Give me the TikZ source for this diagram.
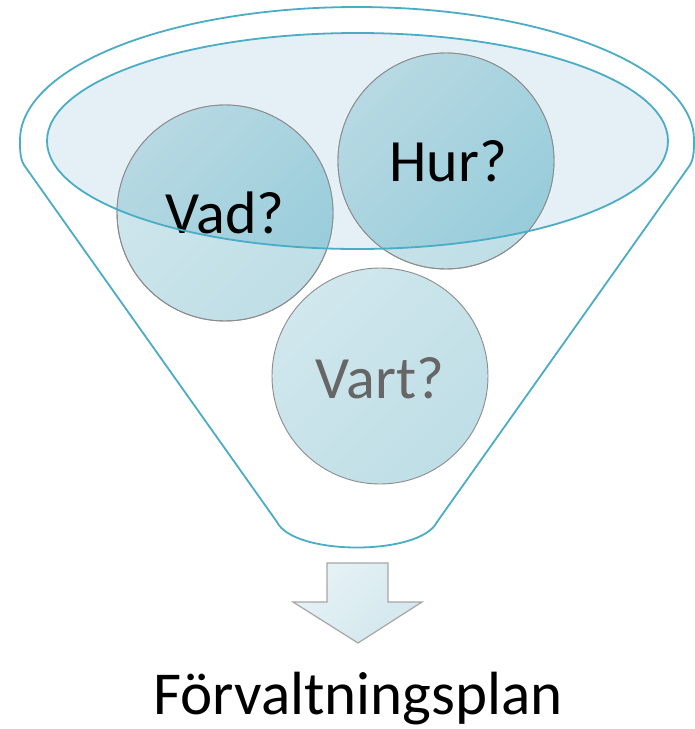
\documentclass[tikz,border=0pt]{standalone}
\usepackage{fontspec}
\setmainfont{Carlito}
\definecolor{funnelteal}{HTML}{4BACC6}
\definecolor{ellfill}{HTML}{E4F0F5}
\definecolor{outA}{HTML}{D0E7ED}
\definecolor{outB}{HTML}{BFDEE6}
\definecolor{inA}{HTML}{B7D9E3}
\definecolor{inB}{HTML}{97CCDA}
\definecolor{circgray}{HTML}{8C8C8C}
\definecolor{vartgray}{HTML}{666666}
\definecolor{arrA}{HTML}{E6F2F5}
\definecolor{arrB}{HTML}{D2E7ED}
\tikzset{
  funnelline/.style={draw=funnelteal, line width=1.8pt},
  qcircle/.style={circle, minimum size=216pt, inner sep=0pt, draw=circgray, line width=0.9pt,
    top color=outA, bottom color=outB, shading angle=45},
  circline/.style={draw=circgray, line width=0.9pt},
  qtext/.style={font=\fontsize{60}{72}\selectfont, text=black},
  arrowshape/.style={draw=gray!70, line width=1.2pt, top color=arrA, bottom color=arrB, shading angle=45},
}
\begin{document}
\begin{tikzpicture}[x=1pt,y=-1pt]
\useasboundingbox (0,0) rectangle (695,729);

% outer funnel
\draw[funnelline] (277,522) -- (24,165) .. controls (20,158) and (20,150) .. (20,140)
  -- plot[smooth, domain=180:360, samples=61] ({357+337*cos(\x)},{140+133*sin(\x)})
  .. controls (694,150) and (694,158) .. (690,165) -- (437,522)
  .. controls (420,556) and (294,556) .. (277,522) -- cycle;

% inner ellipse fill
\fill[ellfill] (357.5,141) ellipse [x radius=310.5, y radius=108];

% circles
\node[qcircle] (vart) at (380,376) {};
\node[qcircle] (vad) at (225,213) {};
\node[qcircle] (hur) at (446,161) {};

% darker parts inside the ellipse
\begin{scope}
  \clip (357.5,141) ellipse [x radius=310.5, y radius=108];
  \shade[top color=inA, bottom color=inB, shading angle=45] (vad.center) circle [radius=108];
  \shade[top color=inA, bottom color=inB, shading angle=45] (hur.center) circle [radius=108];
\end{scope}
\draw[circline] (vad.center) circle [radius=108];
\draw[circline] (hur.center) circle [radius=108];

% texts
\node[qtext] (vadt) at (vad.center) {Vad?};
\node[qtext] (hurt) at ([xshift=2pt]hur.center) {Hur?};
\node[qtext, text=vartgray] (vartt) at ([yshift=-2pt]vart.center) {Vart?};

% inner ellipse outline
\draw[funnelline] (357.5,141) ellipse [x radius=310.5, y radius=108];

% arrow
\path[arrowshape] (327,563) -- (388,563) -- (388,602) -- (422,602) -- (358,643)
  -- (293,602) -- (327,602) -- cycle;

% result text
\node[font=\fontsize{61}{73}\selectfont, anchor=base, inner sep=0pt] (plan) at (358,714) {Förvaltningsplan};
\end{tikzpicture}
\end{document}
